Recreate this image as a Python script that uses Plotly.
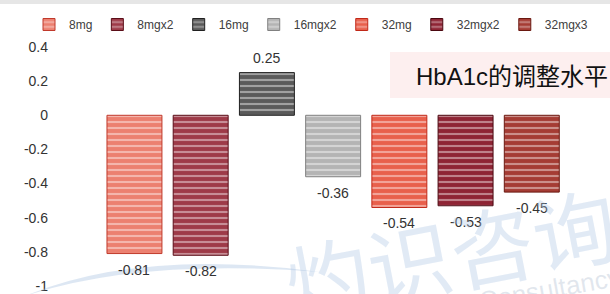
import plotly.graph_objects as go

series = ["8mg", "8mgx2", "16mg", "16mgx2", "32mg", "32mgx2", "32mgx3"]
values = [-0.81, -0.82, 0.25, -0.36, -0.54, -0.53, -0.45]
labels = ["-0.81", "-0.82", "0.25", "-0.36", "-0.54", "-0.53", "-0.45"]
tick_vals = [0.4, 0.2, 0, -0.2, -0.4, -0.6, -0.8, -1]
tick_text = ["0.4", "0.2", "0", "-0.2", "-0.4", "-0.6", "-0.8", "-1"]
title_text = "HbA1c的调整水平"

base_colors = ["#ec8070", "#9e3a48", "#5a5a5a", "#b4b4b4", "#e8604c", "#8e2434", "#a53c34"]
line_colors = ["#c0392b", "#5a0e18", "#202020", "#808080", "#c02818", "#4a0810", "#6a1810"]

W, H = 610, 294
ML, MR, MT, MB = 55, 10, 47, 8

fig = go.Figure()
for i, name in enumerate(series):
    fig.add_trace(go.Bar(
        x=[name], y=[values[i]], name=name,
        marker=dict(
            color=base_colors[i],
            line=dict(color=line_colors[i], width=1),
            pattern=dict(shape="-", fgcolor="rgba(255,255,255,0.85)", size=6, solidity=0.35),
        ),
        width=0.83,
    ))
    fig.add_annotation(
        x=name, y=values[i], text=labels[i], showarrow=False,
        xanchor="center",
        yanchor="top" if values[i] < 0 else "bottom",
        yshift=-6 if values[i] < 0 else 5,
        font=dict(size=14, color="#333333", family="Liberation Sans, Arial"),
    )

pw = W - ML - MR
ph = H - MT - MB

def px(x):
    return (x - ML) / pw

def py(y):
    return 1 - (y - MT) / ph

# title box
fig.add_shape(type="rect", xref="paper", yref="paper",
              x0=px(390), x1=px(612), y0=py(98), y1=py(52),
              fillcolor="rgba(240,150,150,0.15)", line=dict(width=0), layer="below")
fig.add_annotation(xref="paper", yref="paper", x=px(414), y=py(76), xanchor="left", yanchor="middle",
                   text=title_text, showarrow=False,
                   font=dict(size=24, color="#111111", family="Liberation Sans, Noto Sans CJK SC"))
# top strip
fig.add_shape(type="rect", xref="paper", yref="paper",
              x0=px(0), x1=px(610), y0=py(4), y1=py(0),
              fillcolor="#e6e6e6", line=dict(width=0))
# watermark
fig.add_annotation(xref="paper", yref="paper", x=px(450), y=py(250), text="灼识咨询",
                   xanchor="center", yanchor="middle",
                   showarrow=False, textangle=-11,
                   font=dict(size=84, color="rgba(170,195,225,0.35)", family="Noto Sans CJK SC"))
fig.add_annotation(xref="paper", yref="paper", x=px(474), y=py(289), text="Consultancy",
                   xanchor="left", yanchor="middle",
                   showarrow=False, textangle=-10,
                   font=dict(size=26, color="rgba(170,185,205,0.35)", family="Liberation Sans"))
fig.add_shape(type="path", xref="paper", yref="paper",
              path=f"M {px(25)},{py(296)} Q {px(140)},{py(248)} {px(320)},{py(272)} Q {px(140)},{py(258)} {px(25)},{py(296)} Z",
              fillcolor="rgba(170,195,225,0.4)", line=dict(width=0))

fig.update_layout(
    width=W, height=H,
    margin=dict(l=ML, r=MR, t=MT, b=MB, autoexpand=False),
    plot_bgcolor="white", paper_bgcolor="white",
    bargap=0.17,
    showlegend=True,
    legend=dict(orientation="h", x=px(29), xanchor="left", y=py(10), yanchor="top",
                font=dict(size=12, color="#404040", family="Liberation Sans, Arial"),
                itemwidth=30, bgcolor="rgba(0,0,0,0)", tracegroupgap=0),
    xaxis=dict(visible=False, range=[-1.2, 7.03]),
    yaxis=dict(range=[-1, 0.4], tickvals=tick_vals, ticktext=tick_text, showgrid=False,
               zeroline=False, showline=False, ticks="", ticklabelstandoff=6,
               tickfont=dict(size=14, color="#333333", family="Liberation Sans, Arial")),
)

fig.write_html("out.html", config={"displayModeBar": False},
               post_script="document.body.style.margin='0';")
